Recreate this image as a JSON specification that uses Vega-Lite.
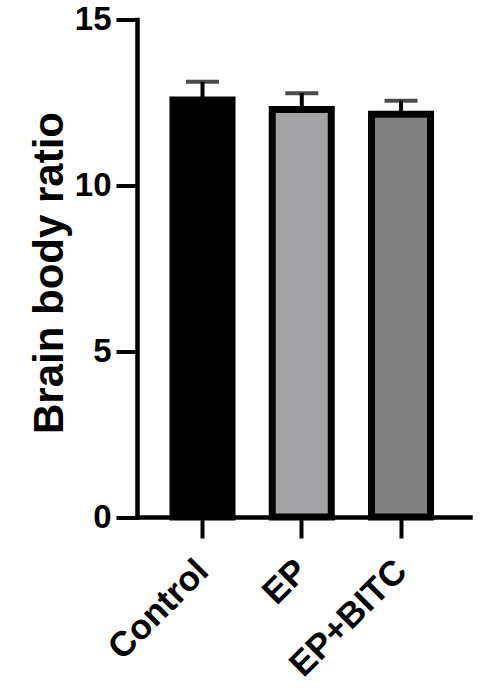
{
  "$schema": "https://vega.github.io/schema/vega-lite/v6.json",
  "autosize": {"type": "none"},
  "padding": {"left": 137, "top": 19.5, "right": 11, "bottom": 182},
  "width": 333,
  "height": 497.5,
  "background": "white",
  "config": {
    "view": {"stroke": null},
    "font": "Liberation Sans"
  },
  "data": {
    "values": [
      {"group": "Control", "mean": 12.57, "upper": 13.12},
      {"group": "EP", "mean": 12.29, "upper": 12.78},
      {"group": "EP+BITC", "mean": 12.14, "upper": 12.55}
    ]
  },
  "encoding": {
    "x": {
      "field": "group",
      "type": "nominal",
      "sort": ["Control", "EP", "EP+BITC"],
      "scale": {"paddingInner": 0.4055, "paddingOuter": 0.38, "align": 0.477},
      "axis": {
        "title": null,
        "labelAngle": -45,
        "labelAlign": "right",
        "labelBaseline": "middle",
        "labelFont": "Liberation Sans",
        "labelFontWeight": "bold",
        "labelFontSize": 35,
        "labelColor": "black",
        "labelPadding": 27,
        "tickSize": 21,
        "tickWidth": 4,
        "tickColor": "black",
        "domainColor": "black",
        "domainWidth": 4.5,
        "domainCap": "square",
        "grid": false
      }
    }
  },
  "layer": [
    {
      "mark": {"type": "rule", "stroke": "black", "strokeWidth": 4},
      "encoding": {
        "y": {"field": "mean", "type": "quantitative"},
        "y2": {"field": "upper"}
      }
    },
    {
      "mark": {"type": "tick", "color": "black", "size": 33, "thickness": 4, "orient": "horizontal"},
      "encoding": {
        "y": {"field": "upper", "type": "quantitative"}
      }
    },
    {
      "mark": {"type": "bar", "stroke": "black", "strokeWidth": 7},
      "encoding": {
        "y": {
          "field": "mean",
          "type": "quantitative",
          "scale": {"domain": [0, 15], "nice": false},
          "axis": {
            "title": "Brain body ratio",
            "titleFont": "Liberation Sans",
            "titleFontWeight": "bold",
            "titleFontSize": 42,
            "titleColor": "black",
            "titlePadding": 3,
            "titleY": 253,
            "values": [0, 5, 10, 15],
            "labelFont": "Liberation Sans",
            "labelFontWeight": "bold",
            "labelFontSize": 33,
            "labelColor": "black",
            "labelPadding": 5,
            "tickSize": 21,
            "tickWidth": 4,
            "tickColor": "black",
            "domainColor": "black",
            "domainWidth": 4.5,
            "domainCap": "square",
            "grid": false
          }
        },
        "fill": {
          "field": "group",
          "type": "nominal",
          "scale": {"domain": ["Control", "EP", "EP+BITC"], "range": ["#000000", "#A3A3A6", "#808080"]},
          "legend": null
        }
      }
    }
  ]
}
